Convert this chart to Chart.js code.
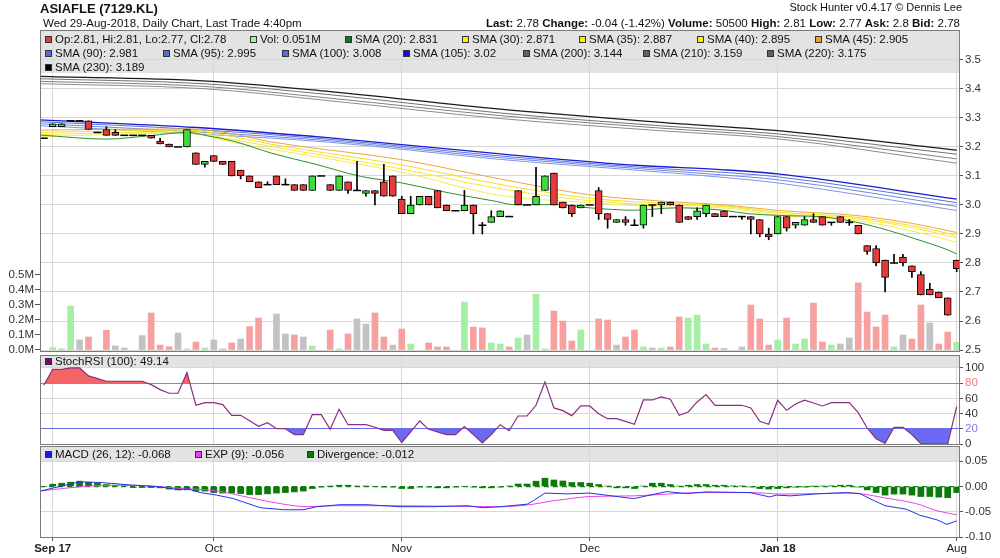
<!DOCTYPE html>
<html>
<head>
<meta charset="utf-8">
<script src="https://cdn.jsdelivr.net/npm/chart.js@4.4.1/dist/chart.umd.min.js"></script>
<style>
body { margin: 0; background: #fff; font-family: "Liberation Sans", Arial, sans-serif; color: #111; }
#wrap { position: relative; width: 1000px; height: 558px; overflow: hidden; }
canvas { position: absolute; left: 0; }
.t { position: absolute; white-space: nowrap; font-size: 11.5px; line-height: 14px; }
.sq { position: absolute; width: 5px; height: 5px; border: 1px solid #333; }
</style>
</head>
<body>
<div id="wrap">
<canvas id="main" width="1000" height="360" style="top:0px"></canvas>
<canvas id="stoch" width="1000" height="110" style="top:345px"></canvas>
<canvas id="macd" width="1000" height="122" style="top:436px"></canvas>

<div class="t" style="left:40px;top:1px;font-size:13px;line-height:15px;font-weight:bold">ASIAFLE (7129.KL)</div>
<div class="t" style="left:43px;top:16px">Wed 29-Aug-2018, Daily Chart, Last Trade 4:40pm</div>
<div class="t" style="right:38px;top:1px;font-size:11px;line-height:13px">Stock Hunter v0.4.17 &copy; Dennis Lee</div>
<div class="t" style="right:40px;top:16px"><b>Last:</b> 2.78 <b>Change:</b> -0.04 (-1.42%) <b>Volume:</b> 50500 <b>High:</b> 2.81 <b>Low:</b> 2.77 <b>Ask:</b> 2.8 <b>Bid:</b> 2.78</div>
<div id="legends"></div>
</div>

<script>
// first bar is index -1 (cut by the left border), last is 101
const firstIdx = -1;

const opens = [3.23,
  3.27, 3.27, 3.29, 3.29, 3.29, 3.25, 3.26, 3.25, 3.24, 3.24,
  3.24, 3.24, 3.22, 3.21, 3.20, 3.20, 3.18, 3.14, 3.17, 3.15,
  3.15, 3.12, 3.10, 3.08, 3.07, 3.10, 3.07, 3.07, 3.07, 3.05,
  3.10, 3.07, 3.05, 3.08, 3.05, 3.04, 3.05, 3.08, 3.10, 3.02,
  2.97, 3.00, 3.03, 3.05, 3.00, 2.98, 2.98, 3.00, 2.93, 2.94,
  2.96, 2.96, 3.05, 3.00, 3.00, 3.05, 3.11, 3.01, 3.00, 2.99,
  3.00, 3.05, 2.97, 2.94, 2.95, 2.93, 2.93, 3.00, 3.00, 3.01,
  3.00, 2.96, 2.96, 2.97, 2.97, 2.98, 2.96, 2.96, 2.96, 2.95,
  2.90, 2.90, 2.96, 2.93, 2.93, 2.95, 2.96, 2.94, 2.96, 2.94,
  2.93, 2.86, 2.85, 2.81, 2.80, 2.82, 2.79, 2.76, 2.71, 2.70,
  2.68, 2.81];
const highs = [3.23,
  3.28, 3.28, 3.29, 3.29, 3.29, 3.25, 3.27, 3.26, 3.24, 3.24,
  3.24, 3.24, 3.23, 3.21, 3.20, 3.26, 3.18, 3.15, 3.17, 3.15,
  3.15, 3.12, 3.10, 3.08, 3.08, 3.10, 3.09, 3.07, 3.07, 3.10,
  3.10, 3.07, 3.10, 3.08, 3.15, 3.05, 3.05, 3.14, 3.10, 3.03,
  3.03, 3.03, 3.03, 3.05, 3.00, 2.98, 3.05, 3.00, 2.94, 2.98,
  2.98, 2.96, 3.05, 3.00, 3.13, 3.10, 3.11, 3.01, 3.00, 3.00,
  3.00, 3.06, 2.97, 2.95, 2.96, 2.95, 3.00, 3.00, 3.01, 3.01,
  3.00, 2.96, 2.99, 3.00, 2.97, 2.98, 2.96, 2.96, 2.96, 2.95,
  2.92, 2.96, 2.96, 2.94, 2.96, 2.97, 2.96, 2.94, 2.96, 2.95,
  2.93, 2.86, 2.86, 2.81, 2.83, 2.83, 2.79, 2.77, 2.73, 2.70,
  2.68, 2.81];
const lows = [3.23,
  3.27, 3.27, 3.29, 3.29, 3.26, 3.25, 3.24, 3.24, 3.24, 3.24,
  3.24, 3.23, 3.21, 3.20, 3.20, 3.20, 3.14, 3.13, 3.15, 3.14,
  3.10, 3.09, 3.08, 3.06, 3.07, 3.07, 3.07, 3.05, 3.05, 3.05,
  3.10, 3.05, 3.05, 3.04, 3.05, 3.03, 3.00, 3.03, 3.03, 2.97,
  2.97, 3.00, 3.00, 2.99, 2.98, 2.98, 2.98, 2.90, 2.90, 2.94,
  2.96, 2.96, 3.00, 3.00, 3.00, 3.05, 3.00, 2.99, 2.96, 2.99,
  3.00, 2.95, 2.92, 2.94, 2.93, 2.93, 2.92, 2.96, 2.97, 3.00,
  2.94, 2.95, 2.95, 2.96, 2.96, 2.96, 2.96, 2.95, 2.90, 2.89,
  2.88, 2.90, 2.91, 2.92, 2.93, 2.94, 2.93, 2.93, 2.94, 2.93,
  2.90, 2.83, 2.79, 2.70, 2.80, 2.79, 2.75, 2.69, 2.69, 2.68,
  2.62, 2.77];
const closes = [3.23,
  3.28, 3.28, 3.29, 3.29, 3.26, 3.25, 3.24, 3.24, 3.24, 3.24,
  3.24, 3.23, 3.21, 3.20, 3.20, 3.26, 3.14, 3.15, 3.15, 3.14,
  3.10, 3.10, 3.08, 3.06, 3.07, 3.07, 3.07, 3.05, 3.05, 3.10,
  3.10, 3.05, 3.10, 3.05, 3.05, 3.05, 3.04, 3.03, 3.03, 2.97,
  3.00, 3.03, 3.00, 2.99, 2.98, 2.98, 3.00, 2.97, 2.93, 2.96,
  2.98, 2.96, 3.00, 3.00, 3.03, 3.10, 3.00, 2.99, 2.97, 3.00,
  3.00, 2.97, 2.95, 2.95, 2.94, 2.93, 3.00, 3.00, 3.01, 3.00,
  2.94, 2.95, 2.98, 3.00, 2.96, 2.96, 2.96, 2.96, 2.95, 2.90,
  2.89, 2.96, 2.92, 2.94, 2.95, 2.94, 2.93, 2.94, 2.94, 2.94,
  2.90, 2.84, 2.80, 2.75, 2.80, 2.80, 2.77, 2.69, 2.69, 2.68,
  2.62, 2.78];
// volume in millions
const volumes = [0,
  0.016, 0.007, 0.293, 0.067, 0.087, 0, 0.131, 0.027, 0.013, 0,
  0.096, 0.247, 0.033, 0.022, 0.113, 0.007, 0.053, 0.013, 0.067, 0.007,
  0.047, 0.073, 0.156, 0.213, 0, 0.24, 0.107, 0.1, 0.087, 0.027,
  0, 0.133, 0.007, 0.107, 0.207, 0.173, 0.247, 0.087, 0.033, 0.14,
  0.04, 0, 0.047, 0.02, 0.02, 0, 0.32, 0.153, 0.147, 0.047,
  0.04, 0.02, 0.08, 0.1, 0.373, 0.007, 0.26, 0.193, 0.06, 0.133,
  0, 0.207, 0.2, 0.033, 0.087, 0.133, 0.02, 0.013, 0.013, 0.02,
  0.22, 0.213, 0.233, 0.04, 0.013, 0.01, 0, 0.02, 0.3, 0.207,
  0.033, 0.067, 0.213, 0.04, 0.073, 0.313, 0.053, 0.033, 0.04, 0.08,
  0.447, 0.253, 0.153, 0.233, 0.02, 0.1, 0.073, 0.3, 0.18, 0.04,
  0.12, 0.051];

// moving averages: [bar index, value]
const sma20 = [[-1.4, 3.241], [6, 3.227], [10.9, 3.239], [15, 3.25], [17.2, 3.239], [20.2, 3.22],
  [24.5, 3.178], [29.3, 3.141], [34.5, 3.098], [39, 3.076], [44.2, 3.042], [49.6, 3.012],
  [51.5, 3.001], [56.3, 3.001], [60, 2.99], [64.9, 2.982], [69.7, 2.99], [74.8, 2.982],
  [77.7, 2.97], [81.1, 2.964], [86.3, 2.958], [89.7, 2.941], [93.4, 2.912], [96.3, 2.884],
  [100.1, 2.844], [101, 2.831]];
const sma30 = [[-1.4, 3.236], [15, 3.248], [20.2, 3.215], [24.3, 3.193], [39, 3.113], [49.6, 3.035],
  [60, 3.008], [69.7, 2.992], [74.8, 2.99], [81.1, 2.964], [89.7, 2.947], [96.3, 2.908], [101, 2.871]];
const sma35 = [[-1.4, 3.243], [15, 3.252], [20.2, 3.225], [24.3, 3.202], [39, 3.124], [49.6, 3.058],
  [60, 3.015], [69.7, 2.998], [74.8, 2.995], [81.1, 2.97], [89.7, 2.953], [96.3, 2.92], [101, 2.887]];
const sma40 = [[-1.4, 3.25], [15, 3.258], [20.2, 3.235], [24.3, 3.21], [39, 3.138], [49.6, 3.073],
  [60, 3.023], [69.7, 3.004], [74.8, 2.998], [81.1, 2.975], [89.7, 2.958], [96.3, 2.927], [101, 2.895]];
const sma45 = [[-1.4, 3.258], [15, 3.262], [20.2, 3.245], [24.3, 3.218], [39, 3.156], [49.6, 3.092],
  [60, 3.035], [69.7, 3.01], [74.8, 3.001], [81.1, 2.981], [89.7, 2.964], [96.3, 2.935], [101, 2.905]];
const sma90 = [[-1.4, 3.273], [16.1, 3.245], [31, 3.216], [50, 3.157], [65.6, 3.119], [74.6, 3.096], [81, 3.076], [101, 2.981]];
const sma95 = [[-1.4, 3.28], [16.1, 3.252], [31, 3.221], [50, 3.163], [65.6, 3.125], [74.6, 3.104], [81, 3.087], [101, 2.995]];
const sma100 = [[-1.4, 3.287], [16.1, 3.26], [31, 3.226], [50, 3.169], [65.6, 3.13], [74.6, 3.113], [81, 3.097], [101, 3.008]];
const sma105 = [[-1.4, 3.293], [16.1, 3.267], [31, 3.231], [50, 3.176], [65.6, 3.136], [74.6, 3.122], [81, 3.107], [101, 3.02]];
const sma200 = [[-1.4, 3.418], [16.8, 3.401], [31, 3.359], [50, 3.298], [67.9, 3.256], [81, 3.228], [101, 3.144]];
const sma210 = [[-1.4, 3.426], [16.8, 3.409], [31, 3.368], [50, 3.308], [67.9, 3.265], [81, 3.236], [101, 3.159]];
const sma220 = [[-1.4, 3.435], [16.8, 3.418], [31, 3.38], [50, 3.317], [67.9, 3.273], [81, 3.245], [101, 3.175]];
const sma230 = [[-1.4, 3.443], [16.8, 3.428], [31, 3.391], [50, 3.33], [67.9, 3.285], [81, 3.256], [101, 3.189]];

// StochRSI (100), one value per bar from index -1
const stochRsi = [77.2,
  98, 98, 100, 100, 89.5, 86, 82.5, 82.5, 82.5, 82.5,
  82.5, 78, 71.5, 66.7, 66.7, 94, 51, 54.4, 54.4, 51.8,
  37.7, 37.7, 30.7, 23.2, 28, 20.2, 20.2, 12.3, 12.3, 38.6,
  38.6, 19.3, 45.6, 25.4, 25.4, 25.4, 22, 18, 18, 1.8,
  15.8, 30.3, 19.3, 15.8, 12.3, 12.3, 22.8, 12.3, 1.3, 12.3,
  25.4, 17.5, 36.8, 36.8, 50.9, 81.6, 47.4, 43.9, 37.3, 50,
  50, 39.9, 33.3, 33.3, 29.8, 25.9, 57.9, 57.9, 61.8, 58.8,
  37.7, 42.1, 55.3, 64.9, 50.9, 50.9, 50.9, 50.9, 47.4, 29.8,
  25.9, 57.5, 44.3, 52.6, 57.5, 53.9, 50, 54.4, 54.4, 54.4,
  41.2, 21, 7, 0.9, 21.9, 21.9, 12.3, 0.4, 0, 0,
  0, 49.14];

// MACD lines: [bar index, value]
const macdLine = [[-1.4, -0.009], [3, 0.0092], [5.3, 0.008], [9, 0.0026], [12, -0.0007], [14.2, -0.0066],
  [15, -0.004], [16.5, -0.012], [18.3, -0.017], [20.2, -0.024], [23.2, -0.042], [25.8, -0.046],
  [28, -0.046], [29.5, -0.04], [32.1, -0.036], [35.1, -0.036], [38.8, -0.04], [42.5, -0.04],
  [46.3, -0.038], [48.1, -0.042], [50, -0.04], [53, -0.035], [53.7, -0.028], [55, -0.013],
  [57.4, -0.0145], [60, -0.013], [64.9, -0.024], [68.6, -0.01], [70.8, -0.014], [73.1, -0.0106],
  [77.9, -0.012], [80.1, -0.0205], [80.9, -0.017], [82.4, -0.0185], [85.4, -0.0145], [88.7, -0.012],
  [90.2, -0.014], [91.3, -0.024], [93, -0.038], [95.4, -0.045], [96.9, -0.057], [98.8, -0.066],
  [99.9, -0.075], [101, -0.068]];
const expLine = [[-1.4, -0.009], [1.6, -0.003], [4.5, 0.0013], [9, 0.0026], [14.6, -0.004], [18.3, -0.0086],
  [22, -0.022], [25.8, -0.035], [28.4, -0.04], [31.4, -0.038], [38.8, -0.038], [50, -0.04],
  [53.7, -0.035], [55.6, -0.029], [57.4, -0.025], [60, -0.0198], [64.9, -0.0185], [68.6, -0.015],
  [72.3, -0.012], [77.9, -0.012], [81.6, -0.015], [89.1, -0.013], [90.6, -0.015], [92.8, -0.022],
  [96.5, -0.034], [98.8, -0.048], [101, -0.056]];
// divergence, one value per bar from index -1
const divergence = [0,
  0.0046, 0.0066, 0.0086, 0.0106, 0.0086, 0.0066, 0.004, 0.0026, 0.0013, -0.002,
  -0.002, -0.002, -0.0026, -0.005, -0.0066, -0.0066, -0.009, -0.009, -0.012, -0.013,
  -0.013, -0.014, -0.016, -0.016, -0.0145, -0.013, -0.012, -0.0106, -0.009, -0.004,
  -0.001, 0.0005, 0.0026, 0.0026, 0.001, 0.0005, 0, -0.0005, -0.001, -0.004,
  -0.004, -0.001, -0.001, -0.0026, -0.0026, -0.001, 0, -0.001, -0.0026, -0.0026,
  -0.001, 0.001, 0.005, 0.005, 0.0106, 0.0165, 0.013, 0.011, 0.008, 0.008,
  0.0066, 0.004, 0.001, -0.0026, -0.0026, -0.004, 0.001, 0.0066, 0.0066, 0.004,
  0.001, 0.0026, 0.004, 0.004, 0.0026, 0.0026, 0.0013, 0.0013, -0.001, -0.004,
  -0.005, -0.004, -0.0026, -0.0013, -0.0005, 0.0005, 0.001, 0.0013, 0.0026, 0.0026,
  -0.001, -0.0066, -0.012, -0.017, -0.015, -0.015, -0.017, -0.0198, -0.0198, -0.021,
  -0.022, -0.012];

const tickIdx = [0, 18, 39, 60, 81, 101];
const tickText = ['Sep 17', 'Oct', 'Nov', 'Dec', 'Jan 18', 'Aug'];
const priceTicks = [2.5, 2.6, 2.7, 2.8, 2.9, 3.0, 3.1, 3.2, 3.3, 3.4, 3.5];
const volTicks = [0, 0.1, 0.2, 0.3, 0.4, 0.5];
const stochTicks = [0, 20, 40, 60, 80, 100];
const macdTicks = [-0.1, -0.05, 0, 0.05];

Chart.defaults.font.family = '"Liberation Sans", Arial, sans-serif';
Chart.defaults.font.size = 11.5;
Chart.defaults.color = '#333';

const GRID = '#d8d8d8';

// grey header band + frame around every panel
const panelPlugin = {
    id: 'panel',
    beforeDraw(chart, args, opts) {
        const a = chart.chartArea, ctx = chart.ctx;
        ctx.save();
        ctx.fillStyle = '#e3e3e3';
        ctx.fillRect(a.left, a.top, a.right - a.left, opts.band);
        ctx.restore();
    },
    afterDraw(chart) {
        const a = chart.chartArea, ctx = chart.ctx;
        ctx.save();
        ctx.strokeStyle = '#7a7a7a';
        ctx.lineWidth = 1;
        ctx.strokeRect(a.left + 0.5, a.top + 0.5, a.right - a.left, a.bottom - a.top);
        ctx.restore();
    }
};

function xScale(showLabels) {
    return {
        type: 'linear', min: -1.42, max: 101.26, offset: false,
        afterBuildTicks: s => { s.ticks = tickIdx.map(v => ({value: v})); },
        afterFit: s => { s.height = showLabels ? 21 : 0; },
        grid: {color: GRID, offset: false, drawTicks: showLabels, tickLength: 4, tickColor: '#555'},
        border: {display: false},
        ticks: {
            display: showLabels, padding: 1, autoSkip: false, maxRotation: 0, color: '#222',
            callback: v => tickText[tickIdx.indexOf(v)],
            font: c => ({size: 11.5, weight: (c.tick && (c.tick.value === 0 || c.tick.value === 81)) ? 'bold' : 'normal'})
        }
    };
}

function rightAxis(min, max, ticks, fmt, extra) {
    return Object.assign({
        position: 'right', min: min, max: max,
        afterFit: s => { s.width = 41; },
        afterBuildTicks: s => { s.ticks = ticks.map(v => ({value: v})); },
        ticks: {callback: fmt, padding: 2},
        grid: {color: GRID, tickLength: 4, tickColor: '#555'},
        border: {display: false}
    }, extra || {});
}

function smaLine(pts, color, width) {
    return {
        type: 'line', yAxisID: 'price', order: 5,
        data: pts.map(p => ({x: p[0], y: p[1]})),
        borderColor: color, borderWidth: width || 1, pointRadius: 0,
        cubicInterpolationMode: 'monotone'
    };
}

// candles and volume
const bodies = [], bodyColors = [], wicks = [], flats = [], vols = [], volColors = [];
for (let k = 0; k < opens.length; k++) {
    const i = k + firstIdx, o = opens[k], c = closes[k];
    if (highs[k] > lows[k]) wicks.push({x: i, y: [lows[k], highs[k]]});
    if (o === c) {
        flats.push({x: i, y: c});
    } else {
        bodies.push({x: i, y: [o, c]});
        bodyColors.push(c > o ? '#3be03b' : '#e63b3b');
    }
    if (volumes[k] > 0) {
        const prev = k > 0 ? closes[k - 1] : c;
        vols.push({x: i, y: volumes[k]});
        volColors.push(c > prev ? '#a3efa3' : (c < prev ? '#f7a0a0' : '#c2c2c2'));
    }
}

new Chart(document.getElementById('main'), {
    type: 'bar',
    data: {
        datasets: [
            {type: 'line', yAxisID: 'price', order: 0, data: flats, showLine: false,
             pointStyle: 'line', pointRadius: 4, pointBorderColor: '#000', pointBorderWidth: 1.5},
            {type: 'bar', yAxisID: 'price', order: 1, data: bodies, backgroundColor: bodyColors,
             borderColor: '#000', borderWidth: 1, borderSkipped: false, barThickness: 7, grouped: false},
            {type: 'bar', yAxisID: 'price', order: 2, data: wicks, backgroundColor: '#000',
             borderWidth: 0, barThickness: 1, grouped: false},
            smaLine(sma20, '#2f8f2f'),
            smaLine(sma30, '#f4ec50'),
            smaLine(sma35, '#f5e838'),
            smaLine(sma40, '#f2e020'),
            smaLine(sma45, '#f0a440'),
            smaLine(sma90, '#8094e6'),
            smaLine(sma95, '#6f86e2'),
            smaLine(sma100, '#5a73dc'),
            smaLine(sma105, '#1a1ad0', 1.3),
            smaLine(sma200, '#8c8c8c'),
            smaLine(sma210, '#808080'),
            smaLine(sma220, '#707070'),
            smaLine(sma230, '#1a1a1a', 1.3),
            {type: 'bar', yAxisID: 'vol', order: 10, data: vols, backgroundColor: volColors,
             borderWidth: 0, barThickness: 6, grouped: false}
        ]
    },
    options: {
        animation: false, responsive: false, events: [],
        layout: {padding: {top: 30, bottom: 9, left: 0, right: 0}},
        plugins: {legend: {display: false}, tooltip: {enabled: false}, panel: {band: 43}},
        scales: {
            x: xScale(false),
            price: rightAxis(2.4966, 3.6031, priceTicks, v => v.toFixed(1)),
            vol: {
                position: 'left', min: -0.00667, max: 2.1333,
                afterFit: s => { s.width = 40; },
                afterBuildTicks: s => { s.ticks = volTicks.map(v => ({value: v})); },
                ticks: {callback: v => v.toFixed(1) + 'M', padding: 1},
                grid: {drawOnChartArea: false, tickLength: 5, tickColor: '#555'},
                border: {display: false}
            }
        }
    },
    plugins: [panelPlugin]
});

const stochPts = stochRsi.map((v, k) => ({x: k + firstIdx, y: v}));
new Chart(document.getElementById('stoch'), {
    type: 'line',
    data: {
        datasets: [
            {data: stochPts, order: 0, borderColor: '#8a2f80', borderWidth: 1.2, pointRadius: 0, tension: 0,
             fill: {target: {value: 80}, above: '#f46464', below: 'rgba(0,0,0,0)'}},
            {data: stochPts, order: 1, borderColor: 'rgba(0,0,0,0)', borderWidth: 0, pointRadius: 0, tension: 0,
             fill: {target: {value: 20}, above: 'rgba(0,0,0,0)', below: '#6a6af2'}}
        ]
    },
    options: {
        animation: false, responsive: false, events: [],
        layout: {padding: {top: 10, bottom: 11, left: 40, right: 0}},
        plugins: {legend: {display: false}, tooltip: {enabled: false}, panel: {band: 13}},
        scales: {
            x: xScale(false),
            y: rightAxis(0, 117, stochTicks, v => String(v), {
                grid: {
                    tickLength: 4, tickColor: '#555',
                    color: c => c.tick && c.tick.value === 80 ? '#e46a6a' : (c.tick && c.tick.value === 20 ? '#6a6ae4' : GRID)
                },
                ticks: {
                    padding: 2, callback: v => String(v),
                    color: c => c.tick && c.tick.value === 80 ? '#f07a7a' : (c.tick && c.tick.value === 20 ? '#7a7af0' : '#333')
                }
            })
        }
    },
    plugins: [panelPlugin]
});

new Chart(document.getElementById('macd'), {
    type: 'bar',
    data: {
        datasets: [
            {type: 'line', order: 0, data: macdLine.map(p => ({x: p[0], y: p[1]})), borderColor: '#2233e0',
             borderWidth: 1, pointRadius: 0, tension: 0},
            {type: 'line', order: 1, data: expLine.map(p => ({x: p[0], y: p[1]})), borderColor: '#ea44ea',
             borderWidth: 1, pointRadius: 0, cubicInterpolationMode: 'monotone'},
            {type: 'bar', order: 2, data: divergence.map((v, k) => ({x: k + firstIdx, y: v})),
             backgroundColor: '#0b7a0b', borderWidth: 0, barThickness: 6, grouped: false},
            {type: 'line', order: 3, data: [{x: -1.42, y: 0}, {x: 101.26, y: 0}], borderColor: '#138a13',
             borderDash: [5, 4], borderWidth: 1.2, pointRadius: 0}
        ]
    },
    options: {
        animation: false, responsive: false, events: [],
        layout: {padding: {top: 10, bottom: 0, left: 40, right: 0}},
        plugins: {legend: {display: false}, tooltip: {enabled: false}, panel: {band: 15}},
        scales: {
            x: xScale(true),
            y: rightAxis(-0.1, 0.0803, macdTicks, v => v.toFixed(2), {
                grid: {tickLength: 4, tickColor: '#555', color: c => c.tick && c.tick.value === 0 ? 'rgba(0,0,0,0)' : GRID}
            })
        }
    },
    plugins: [panelPlugin]
});

// legend rows inside the grey bands: [square left, square top, colour, text]
const legendItems = [
    [45, 36, '#e63b3b', 'Op:2.81, Hi:2.81, Lo:2.77, Cl:2.78'],
    [250, 36, '#a3efa3', 'Vol: 0.051M'],
    [345, 36, '#137a13', 'SMA (20): 2.831'],
    [462, 36, '#f4f400', 'SMA (30): 2.871'],
    [579, 36, '#f4f400', 'SMA (35): 2.887'],
    [697, 36, '#f4f400', 'SMA (40): 2.895'],
    [815, 36, '#f0a030', 'SMA (45): 2.905'],
    [45, 50, '#4f6fd6', 'SMA (90): 2.981'],
    [163, 50, '#4f6fd6', 'SMA (95): 2.995'],
    [282, 50, '#4f6fd6', 'SMA (100): 3.008'],
    [403, 50, '#1010e0', 'SMA (105): 3.02'],
    [523, 50, '#606060', 'SMA (200): 3.144'],
    [643, 50, '#606060', 'SMA (210): 3.159'],
    [767, 50, '#606060', 'SMA (220): 3.175'],
    [45, 64, '#000000', 'SMA (230): 3.189'],
    [45, 358, '#800080', 'StochRSI (100): 49.14'],
    [45, 451, '#1a1ae0', 'MACD (26, 12): -0.068'],
    [195, 451, '#f040f0', 'EXP (9): -0.056'],
    [307, 451, '#0b7a0b', 'Divergence: -0.012']
];
const box = document.getElementById('legends');
legendItems.forEach(item => {
    const sq = document.createElement('div');
    sq.className = 'sq';
    sq.style.left = item[0] + 'px';
    sq.style.top = item[1] + 'px';
    sq.style.background = item[2];
    box.appendChild(sq);
    const t = document.createElement('div');
    t.className = 't';
    t.style.left = (item[0] + 10) + 'px';
    t.style.top = (item[1] - 4.3) + 'px';
    t.textContent = item[3];
    box.appendChild(t);
});
</script>
</body>
</html>
